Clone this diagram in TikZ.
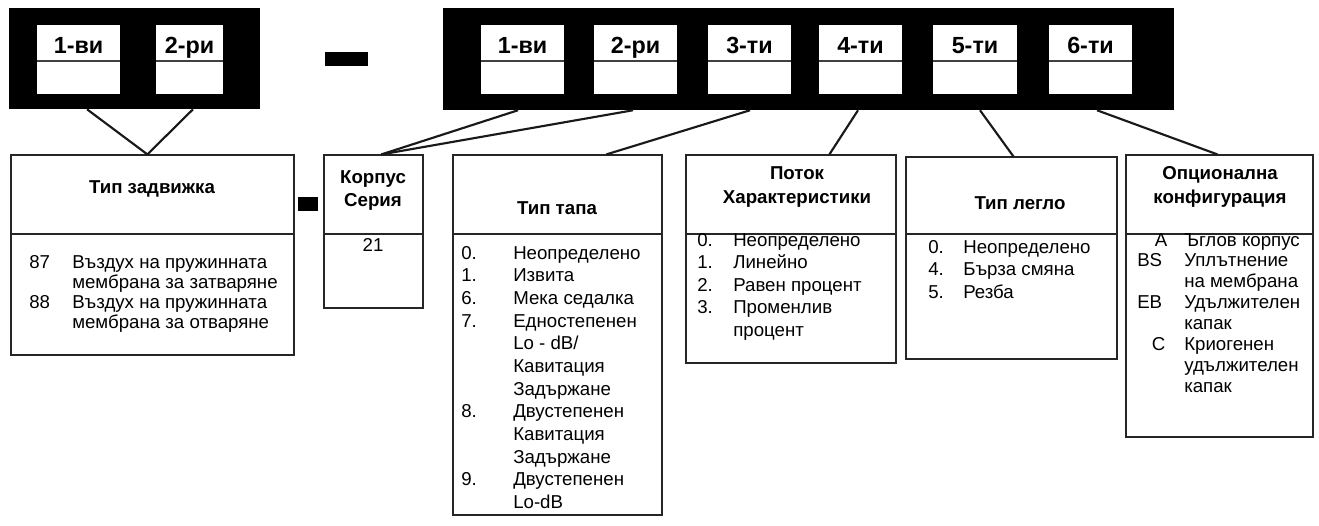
\documentclass[tikz,border=0pt]{standalone}
\usepackage{fontspec}
\setmainfont{Liberation Sans}
\usetikzlibrary{calc,fit}
\tikzset{
  blk/.style={fill=black, draw=none, inner sep=0pt},
  slot/.style={fill=white, draw=none, inner sep=0pt},
  slotlbl/.style={font=\fontsize{17.5}{20}\selectfont\bfseries, inner sep=0pt, anchor=base},
  slotdiv/.style={line width=0.8pt, draw=black!75},
  box/.style={draw=black!85, line width=0.9pt, fill=white, inner sep=0pt},
  boxdiv/.style={line width=0.9pt, draw=black!85},
  conn/.style={line width=1.6pt, draw=black!90},
  ttl/.style={font=\fontsize{14}{17.6}\selectfont\bfseries, align=center, inner sep=0pt, anchor=base},
  lst/.style={inner sep=0pt, anchor=base west},
}
\newcommand{\bodyfont}[1]{\fontsize{14}{#1}\selectfont}
\begin{document}
\begin{tikzpicture}[x=0.75pt,y=-0.75pt]
\useasboundingbox (0,0) rectangle (1319,525);
% black blocks
\node[blk, fit={(9,8) (260,109)}] (blkL) {};
\node[blk, fit={(443,8) (1174,110)}] (blkR) {};
\node[blk, fit={(325,52) (368,66)}] (dashA) {};
\node[blk, fit={(298,197) (318,211)}] (dashB) {};
% slots
\foreach \n/\xa/\xb/\lab in {L1/37/120/1-ви, L2/156/223/2-ри, R1/481/564/1-ви, R2/594/677/2-ри, R3/708/791/3-ти, R4/819/902/4-ти, R5/933/1017/5-ти, R6/1049/1132/6-ти}{
  \node[slot, fit={(\xa,25) (\xb,94)}] (\n) {};
  \draw[slotdiv] (\n.west |- 0,61) -- (\n.east |- 0,61);
  \node[slotlbl] (\n lbl) at ($(\n.north)+(0,29)$) {\lab};
}
% boxes
\node[box, fit={(11,155) (294,355)}] (tz) {};
\node[box, fit={(324,155) (423,308)}] (ks) {};
\node[box, fit={(453,155) (662,515)}] (tt) {};
\node[box, fit={(686,155) (896,363)}] (pk) {};
\node[box, fit={(906,157) (1117,359)}] (tl) {};
\node[box, fit={(1126,155) (1313,437)}] (op) {};
\foreach \b in {tz,ks,tt,pk,tl,op}{
  \draw[boxdiv] (\b.west |- 0,234) -- (\b.east |- 0,234);
}
% connectors
\draw[conn] (blkL.south -| 87,0) -- ($(tz.north west)+(137,0)$);
\draw[conn] (blkL.south -| 193,0) -- ($(tz.north west)+(137,0)$);
\draw[conn] (blkR.south -| 518,0) -- ($(ks.north west)+(58,0)$);
\draw[conn] (blkR.south -| 633,0) -- ($(ks.north west)+(58,0)$);
\draw[conn] (blkR.south -| 750,0) -- ($(tt.north west)+(154,0)$);
\draw[conn] (blkR.south -| 858,0) -- ($(pk.north west)+(144,0)$);
\draw[conn] (blkR.south -| 980,0) -- ($(tl.north west)+(108,0)$);
\draw[conn] (blkR.south -| 1097,0) -- ($(op.north west)+(92,0)$);
% titles (base = baseline of the last line)
\node[ttl] (tzT) at (152,193) {Тип задвижка};
\node[ttl, font=\fontsize{14}{17.25}\selectfont\bfseries] (ksT) at (373,206) {Корпус\\Серия};
\node[ttl] (ttT) at (557,214) {Тип тапа};
\node[ttl, font=\fontsize{14}{18}\selectfont\bfseries] (pkT) at (797,203) {Поток\\Характеристики};
\node[ttl] (tlT) at (1020,209) {Тип легло};
\node[ttl, font=\fontsize{14}{18}\selectfont\bfseries] (opT) at (1220,203) {Опционална\\конфигурация};
% lists
\node[ttl, font=\fontsize{14}{15}\selectfont] (ksL) at (373,251) {21};
\node[lst] (tzL) at (29,268) {\bodyfont{15}\begin{tabular}[t]{@{}p{32.25pt}@{}l@{}}
87 & Въздух на пружинната\\
 & мембрана за затваряне\\
88 & Въздух на пружинната\\
 & мембрана за отваряне
\end{tabular}};
\node[lst] (ttL) at (461,259) {\bodyfont{17}\begin{tabular}[t]{@{}p{39pt}@{}l@{}}
0. & Неопределено\\
1. & Извита\\
6. & Мека седалка\\
7. & Едностепенен\\
 & Lo - dB/\\
 & Кавитация\\
 & Задържане\\
8. & Двустепенен\\
 & Кавитация\\
 & Задържане\\
9. & Двустепенен\\
 & Lo-dB
\end{tabular}};
\node[lst] (pkL) at (697,246) {\bodyfont{16.9}\begin{tabular}[t]{@{}p{27pt}@{}l@{}}
0. & Неопределено\\
1. & Линейно\\
2. & Равен процент\\
3. & Променлив\\
 & процент
\end{tabular}};
\node[lst] (tlL) at (928,253) {\bodyfont{16.9}\begin{tabular}[t]{@{}p{26.25pt}@{}l@{}}
0. & Неопределено\\
4. & Бърза смяна\\
5. & Резба
\end{tabular}};
\node[lst] (opL) at (1137,246) {\bodyfont{15.7}\begin{tabular}[t]{@{}p{35.25pt}@{}l@{}}
\hfill A\hspace{12.75pt} & Ъглов корпус\\
BS & Уплътнение\\
 & на мембрана\\
EB & Удължителен\\
 & капак\\
\hfill C\hspace{14.25pt} & Криогенен\\
 & удължителен\\
 & капак
\end{tabular}};
\end{tikzpicture}
\end{document}
